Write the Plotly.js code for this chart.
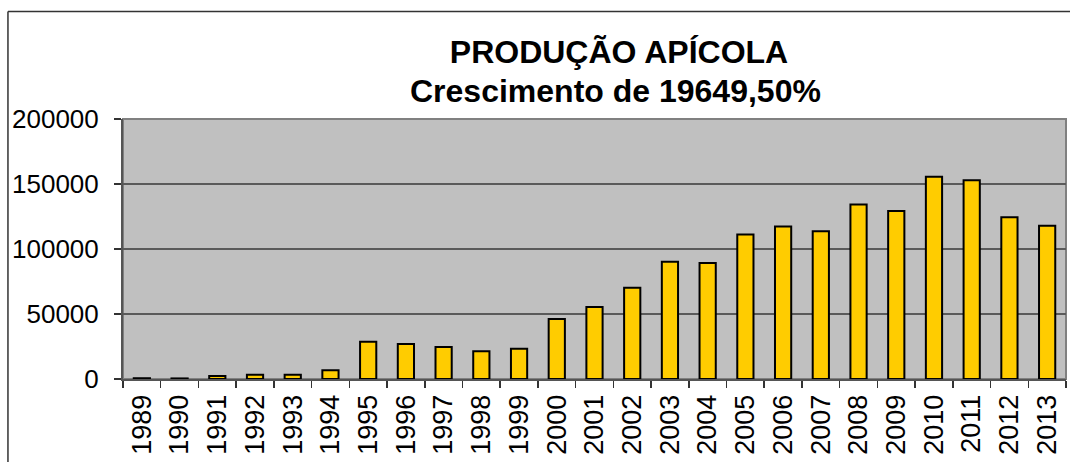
<!DOCTYPE html>
<html>
<head>
<meta charset="utf-8">
<script src="https://cdn.plot.ly/plotly-3.0.1.min.js"></script>
<style>html,body{margin:0;padding:0;background:#fff;}#chart{width:1070px;height:462px;}</style>
</head>
<body>
<div id="chart"></div>
<script>
const years = ["1989","1990","1991","1992","1993","1994","1995","1996","1997","1998","1999","2000","2001","2002","2003","2004","2005","2006","2007","2008","2009","2010","2011","2012","2013"];
const production = [600,450,2300,3300,3300,6700,28700,27000,24700,21300,23300,46100,55400,70200,90200,89200,111200,117400,113600,134300,129200,155600,152800,124400,117900];
const yTicks = [0,50000,100000,150000,200000];
const titleLines = ["PRODUÇÃO APÍCOLA","Crescimento de 19649,50%"];

const FONT = 'Liberation Sans, Arial, sans-serif';

const trace = {
  type: 'bar',
  x: years,
  y: production,
  marker: {color: '#FFCC00', line: {color: '#000000', width: 2}},
  hoverinfo: 'x+y'
};

const layout = {
  width: 1070, height: 462,
  margin: {l: 123, r: 4, t: 119, b: 83},
  paper_bgcolor: '#ffffff',
  plot_bgcolor: '#C0C0C0',
  bargap: 0.57,
  showlegend: false,
  font: {family: FONT, color: '#000'},
  title: {
    text: '<b>' + titleLines[0] + '</b>',
    font: {size: 32, color: '#000', family: FONT},
    xref: 'container', x: 0.5785, xanchor: 'center',
    yref: 'container', y: 1 - 52/462, yanchor: 'middle'
  },
  annotations: [{
    text: '<b>' + titleLines[1] + '</b>',
    font: {size: 32, color: '#000', family: FONT},
    xref: 'paper', yref: 'paper', x: 0.5225, y: 1.1096,
    xanchor: 'center', yanchor: 'middle', showarrow: false
  }],
  xaxis: {
    type: 'category',
    tickangle: -90,
    tickson: 'boundaries',
    ticks: 'outside', ticklen: 7, tickwidth: 1.5, tickcolor: '#333',
    tickfont: {size: 27, color: '#000'},
    ticklabelstandoff: 3,
    showline: true, linecolor: '#555', linewidth: 2,
    showgrid: false, zeroline: false,
    fixedrange: true
  },
  yaxis: {
    range: [0, 200000],
    tickvals: yTicks,
    ticktext: yTicks.map(String),
    ticks: 'outside', ticklen: 7, tickwidth: 1.5, tickcolor: '#333',
    tickfont: {size: 26, color: '#000'},
    ticklabelstandoff: 10,
    showline: true, linecolor: '#555', linewidth: 2,
    showgrid: true, gridcolor: '#5a5a5a', gridwidth: 1.5,
    zeroline: false,
    fixedrange: true
  },
  shapes: [
    {type: 'rect', xref: 'paper', yref: 'paper', x0: 0, x1: 1, y0: 0, y1: 1,
     line: {color: '#808080', width: 2}, layer: 'below'},
    {type: 'line', xref: 'paper', yref: 'paper', x0: -0.122, x1: 1.1, y0: 1.4135, y1: 1.4135,
     line: {color: '#333333', width: 1.5}},
    {type: 'line', xref: 'paper', yref: 'paper', x0: -0.122, x1: -0.122, y0: -0.5, y1: 1.4135,
     line: {color: '#333333', width: 1.5}}
  ]
};

Plotly.newPlot('chart', [trace], layout, {displayModeBar: false, staticPlot: true});
</script>
</body>
</html>
